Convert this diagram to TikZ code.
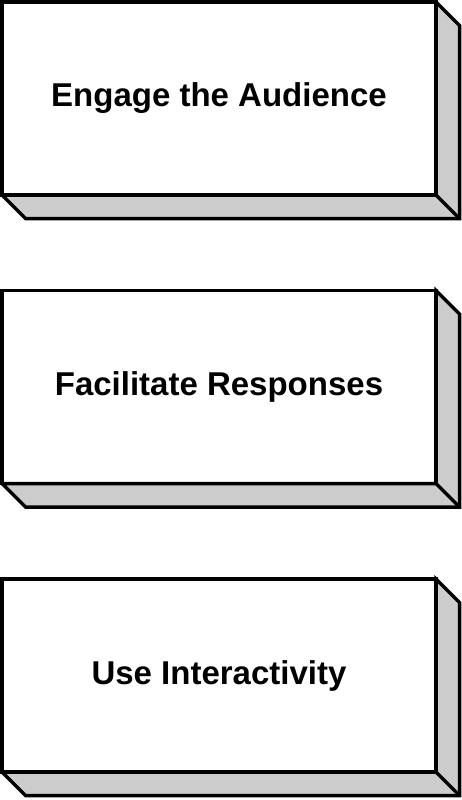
\documentclass[tikz,border=0pt]{standalone}
\usepackage{fontspec}
\setmainfont{Liberation Sans}
\usetikzlibrary{positioning}
\begin{document}
\begin{tikzpicture}[x=1pt,y=-1pt,
  face/.style={draw, line width=3.5pt, fill=white, minimum width=434pt,
    minimum height=193pt, inner sep=0pt, outer sep=0pt,
    font=\fontsize{33}{40}\selectfont\bfseries},
  side/.style={draw, line width=3.5pt, fill=black!20}]
  \useasboundingbox (0,0) rectangle (462,800);
  % front faces
  \node[face, anchor=north west] (engage) at (2,2) {Engage the Audience};
  \node[face, below=95.5pt of engage] (facilitate) {Facilitate Responses};
  \node[face, below=95.5pt of facilitate] (interact) {Use Interactivity};
  % shaded depth on the right and below
  \foreach \b in {engage,facilitate,interact}{
    \draw[side] (\b.north east) -- ([shift={(23.5,23.5)}]\b.north east)
      -- ([shift={(23.5,23.5)}]\b.south east)
      -- ([shift={(23.5,23.5)}]\b.south west) -- (\b.south west)
      -- (\b.south east) -- cycle;
    \draw[line width=3.5pt] (\b.south east) -- ([shift={(23.5,23.5)}]\b.south east);
  }
\end{tikzpicture}
\end{document}
